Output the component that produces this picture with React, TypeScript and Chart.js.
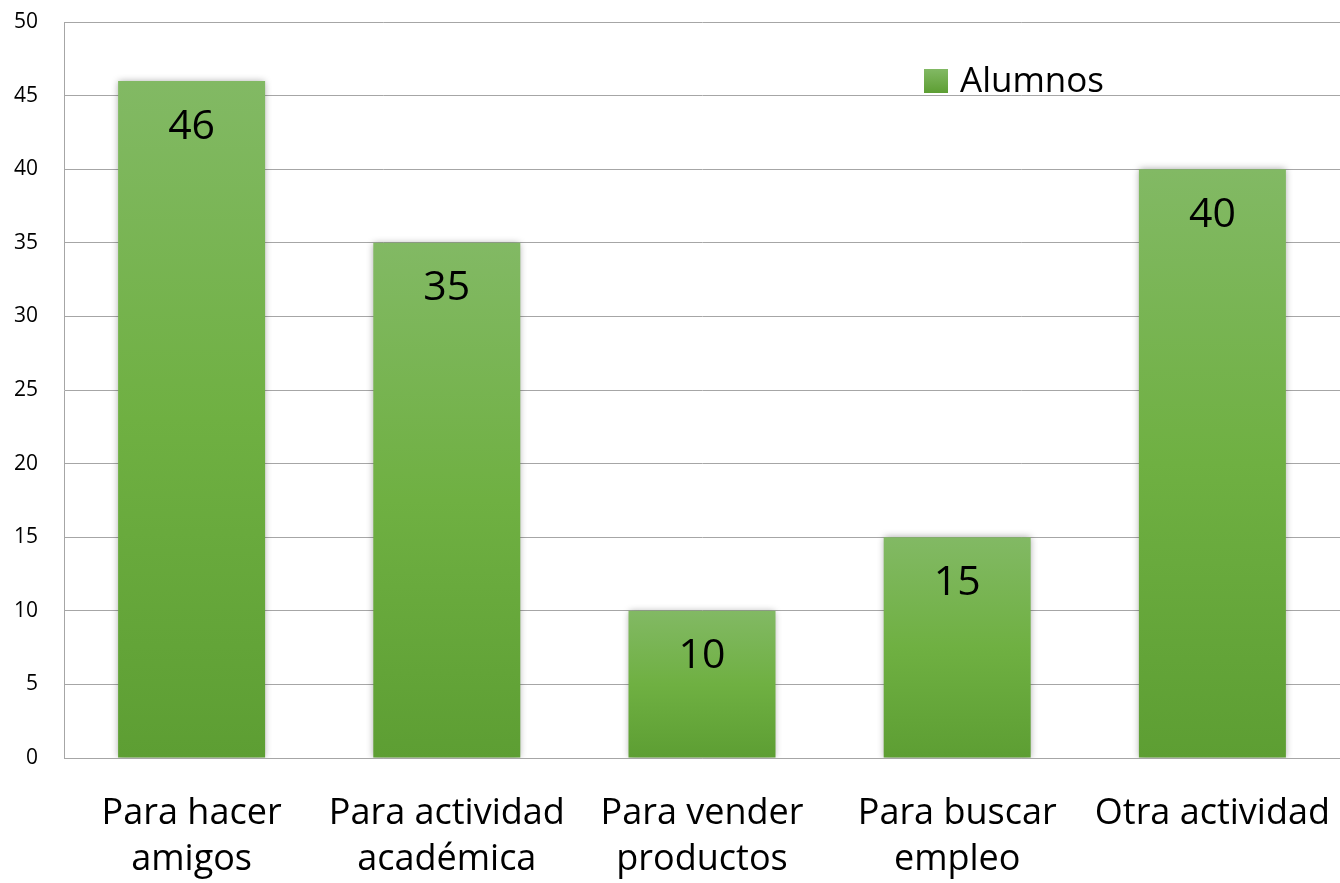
import React, { useEffect, useRef } from "react";
import { Chart, registerables } from "chart.js";

Chart.register(...registerables);

const categories: string[][] = [
  ["Para hacer", "amigos"],
  ["Para actividad", "académica"],
  ["Para vender", "productos"],
  ["Para buscar", "empleo"],
  ["Otra actividad"],
];
const seriesName = "Alumnos";
const values: number[] = [46, 35, 10, 15, 40];
const yMin = 0;
const yMax = 50;
const yStep = 5;

const FONT = '"Open Sans", "Noto Sans", sans-serif';
const TOP_COLOR = "#82b964";
const BOTTOM_COLOR = "#5d9e33";

const shadowPlugin = {
  id: "barShadow",
  beforeDatasetsDraw(chart: any) {
    const ctx = chart.ctx;
    ctx.save();
    ctx.shadowColor = "rgba(0,0,0,0.35)";
    ctx.shadowBlur = 7;
    ctx.shadowOffsetX = 0;
    ctx.shadowOffsetY = 0;
  },
  afterDatasetsDraw(chart: any) {
    chart.ctx.restore();
  },
};

const labelPlugin = {
  id: "valueLabels",
  afterDatasetsDraw(chart: any) {
    const ctx = chart.ctx;
    const meta = chart.getDatasetMeta(0);
    ctx.save();
    ctx.font = `41px ${FONT}`;
    ctx.fillStyle = "#000";
    ctx.textAlign = "center";
    ctx.textBaseline = "middle";
    meta.data.forEach((bar: any, i: number) => {
      ctx.fillText(String(values[i]), bar.x, bar.y + 46);
    });
    ctx.restore();
  },
};

const legendPlugin = {
  id: "insideLegend",
  afterDraw(chart: any) {
    const ctx = chart.ctx;
    const x = 924;
    const y = 69;
    const s = 24;
    ctx.save();
    const g = ctx.createLinearGradient(0, y, 0, y + s);
    g.addColorStop(0, TOP_COLOR);
    g.addColorStop(1, BOTTOM_COLOR);
    ctx.fillStyle = g;
    ctx.fillRect(x, y, s, s);
    ctx.font = `35px ${FONT}`;
    ctx.fillStyle = "#000";
    ctx.textAlign = "left";
    ctx.textBaseline = "middle";
    ctx.fillText(chart.data.datasets[0].label, x + 36, y + s / 2 + 1);
    ctx.restore();
  },
};

export default function App() {
  const ref = useRef<HTMLCanvasElement>(null);
  useEffect(() => {
    document.body.style.margin = "0";
    const canvas = ref.current!;
    const chart = new Chart(canvas, {
      type: "bar",
      data: {
        labels: categories,
        datasets: [
          {
            label: seriesName,
            data: values,
            categoryPercentage: 1,
            barPercentage: 0.576,
            backgroundColor: (c: any) => {
              const ch = c.chart;
              const y = ch.scales && ch.scales.y;
              if (!y || c.dataIndex === undefined) return TOP_COLOR;
              const top = y.getPixelForValue(values[c.dataIndex]);
              const bottom = y.getPixelForValue(0);
              if (!isFinite(top) || !isFinite(bottom) || top === bottom) return TOP_COLOR;
              const g = ch.ctx.createLinearGradient(0, top, 0, bottom);
              g.addColorStop(0, TOP_COLOR);
              g.addColorStop(0.5, "#6fb042");
              g.addColorStop(1, BOTTOM_COLOR);
              return g;
            },
            borderWidth: 0,
          },
        ],
      },
      options: {
        animation: false,
        responsive: false,
        maintainAspectRatio: false,
        layout: { padding: { top: 22, right: 0, left: 0, bottom: 0 } },
        plugins: {
          legend: { display: false },
          tooltip: { enabled: false },
        },
        scales: {
          x: {
            grid: { display: false, drawTicks: false },
            border: { display: true, color: "#a6a6a6", width: 1 },
            ticks: {
              color: "#000",
              font: { family: FONT, size: 36, lineHeight: 1.27 },
              padding: 33,
              maxRotation: 0,
              autoSkip: false,
            },
            afterFit: (s: any) => {
              s.height = 125;
              s.paddingLeft = 0;
              s.paddingRight = 0;
            },
          },
          y: {
            min: yMin,
            max: yMax,
            grid: { color: "#a6a6a6", lineWidth: 1, drawTicks: false },
            border: { display: true, color: "#a6a6a6", width: 1 },
            ticks: {
              stepSize: yStep,
              color: "#000",
              font: { family: FONT, size: 21 },
              padding: 26,
            },
            afterFit: (s: any) => {
              s.width = 64;
              s.paddingTop = 0;
              s.paddingBottom = 0;
            },
          },
        },
      },
      plugins: [shadowPlugin, labelPlugin, legendPlugin],
    });
    return () => chart.destroy();
  }, []);
  return (
    <div style={{ position: "absolute", left: 0, top: 0, width: 1340, height: 883, background: "#fff" }}>
      <canvas ref={ref} width={1340} height={883} style={{ display: "block" }} />
    </div>
  );
}
